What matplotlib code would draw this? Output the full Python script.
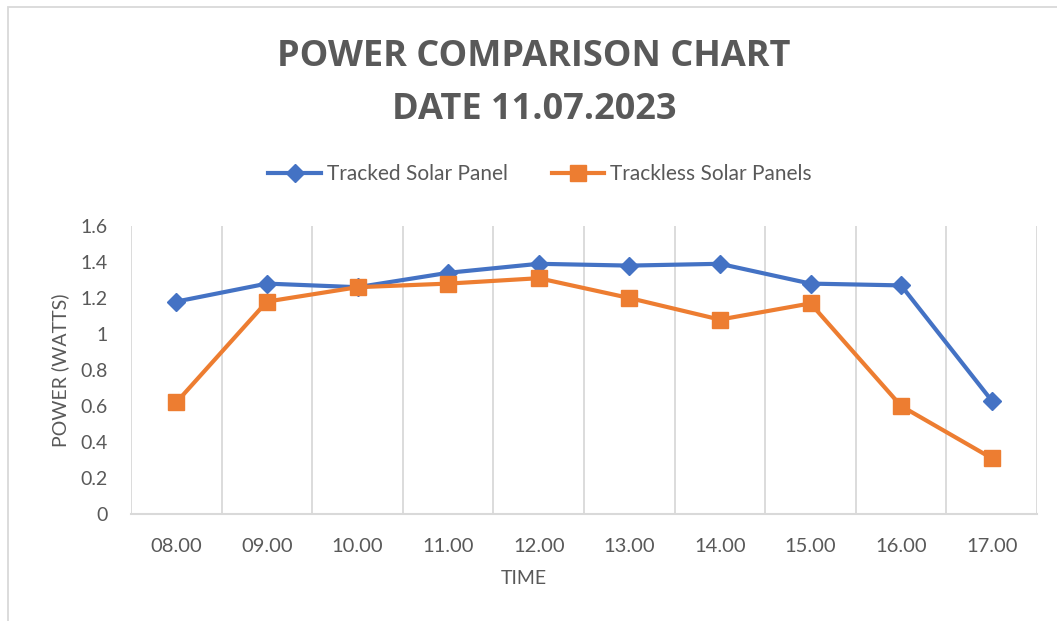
import numpy as np
import matplotlib
matplotlib.use('Agg')
import matplotlib.pyplot as plt
from matplotlib.patches import Rectangle
from matplotlib.lines import Line2D

# data
times = ['08.00', '09.00', '10.00', '11.00', '12.00', '13.00', '14.00', '15.00', '16.00', '17.00']
tracked = [1.18, 1.28, 1.26, 1.34, 1.39, 1.38, 1.39, 1.28, 1.27, 0.63]
trackless = [0.62, 1.18, 1.26, 1.28, 1.31, 1.20, 1.08, 1.17, 0.60, 0.31]
yticks = [0, 0.2, 0.4, 0.6, 0.8, 1, 1.2, 1.4, 1.6]
ytick_labels = ['0', '0.2', '0.4', '0.6', '0.8', '1', '1.2', '1.4', '1.6']

blue = '#4472C4'
orange = '#ED7D31'
grey_txt = '#595959'
grid_col = '#D9D9D9'

plt.rcParams['font.family'] = ['Lato', 'DejaVu Sans']

W, H = 1057, 621
fig = plt.figure(figsize=(W / 100, H / 100), dpi=100)
ax = fig.add_axes([131 / W, 1 - 514 / H, (1037 - 131) / W, (514 - 226) / H])

x = np.arange(len(times))
ax.plot(x, tracked, color=blue, lw=3, marker='D', ms=9, zorder=3, label='Tracked Solar Panel')
ax.plot(x, trackless, color=orange, lw=3, marker='s', ms=12, zorder=4, label='Trackless Solar Panels')

ax.set_xlim(-0.5, len(times) - 0.5)
ax.set_ylim(0, 1.6)
ax.set_xticks(x)
ax.set_xticklabels(times, fontsize=14.5, color=grey_txt)
ax.set_yticks(yticks)
ax.set_yticklabels(ytick_labels, fontsize=14, color=grey_txt)
ax.set_xticks(np.arange(-0.5, len(times)), minor=True)
ax.grid(which='minor', axis='x', color=grid_col, lw=1.3)
ax.tick_params(which='both', length=0)
ax.tick_params(axis='x', pad=17)
ax.tick_params(axis='y', pad=17)
for s in ['top', 'right', 'left']:
    ax.spines[s].set_visible(False)
ax.spines['bottom'].set_color(grid_col)
ax.spines['bottom'].set_linewidth(1.5)

# axis titles
fig.text(60 / W, 1 - 370 / H, 'POWER (WATTS)', rotation=90, ha='center', va='center',
         fontsize=14, color=grey_txt)
fig.text(524 / W, 1 - 579 / H, 'TIME', ha='center', va='center', fontsize=14, color=grey_txt)

# title
fig.text(534 / W, 1 - 57 / H, 'POWER COMPARISON CHART', ha='center', va='center',
         fontsize=26, fontweight='bold', color=grey_txt, family=['Open Sans', 'DejaVu Sans'])
fig.text(534 / W, 1 - 110 / H, 'DATE 11.07.2023', ha='center', va='center',
         fontsize=26, fontweight='bold', color=grey_txt, family=['Open Sans', 'DejaVu Sans'])

# legend
handles = [Line2D([], [], color=blue, lw=3, marker='D', ms=9),
           Line2D([], [], color=orange, lw=3, marker='s', ms=12)]
fig.legend(handles, ['Tracked Solar Panel', 'Trackless Solar Panels'], loc='center',
           bbox_to_anchor=(540 / W, 1 - 174 / H), ncol=2, frameon=False, fontsize=15,
           labelcolor=grey_txt, handlelength=2.5, handletextpad=0.3, columnspacing=2.1)

# chart area border (partly cropped in the reference)
fig.add_artist(Rectangle((8 / W, -0.1), 1.2, 1 - 7 / H + 0.1, transform=fig.transFigure,
                         fill=False, edgecolor=grid_col, lw=1.3))

fig.savefig('out.png', dpi=100)
